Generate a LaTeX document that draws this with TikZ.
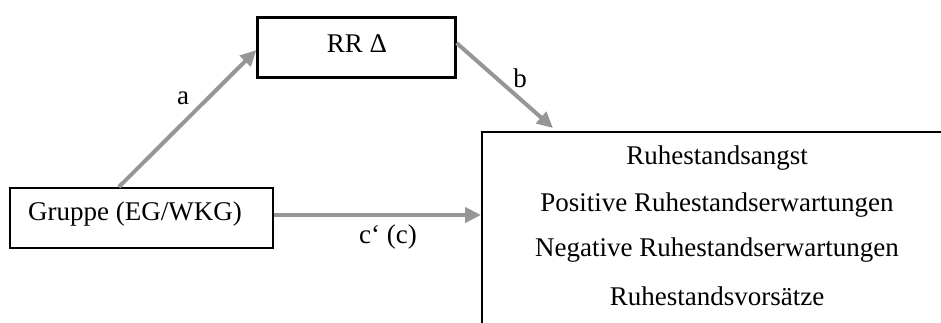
\documentclass[tikz,border=0pt]{standalone}
\usepackage{fontspec}
\setmainfont{Liberation Serif}
\usetikzlibrary{arrows.meta}
\definecolor{arrowgray}{RGB}{150,150,150}
\tikzset{
  box/.style={draw=black, line width=2.2pt, inner sep=0pt},
  path/.style={draw=arrowgray, line width=4pt, -{Triangle[length=16pt,width=15pt]}},
  lbl/.style={font=\fontsize{27}{32}\selectfont, inner sep=0pt},
}
\begin{document}
\begin{tikzpicture}[x=1pt,y=-1pt]
\clip (0,0) rectangle (941,322);
\useasboundingbox (0,0) rectangle (941,322);
\fill[white] (0,0) rectangle (941,322);
\node[box, minimum width=263pt, minimum height=60pt] (g) at (141.5,218) {};
\node[lbl] (gt) at (135,214) {Gruppe (EG/WKG)};
\node[box, minimum width=198pt, minimum height=60pt] (r) at (356.5,47.5) {};
\node[lbl] (rt) at (357,44) {RR Δ};
\node[box, anchor=north west, minimum width=600pt, minimum height=300pt] (o) at (481,131) {};
\node[lbl] (t1) at (717,158) {Ruhestandsangst};
\node[lbl] (t2) at (717,205) {Positive Ruhestandserwartungen};
\node[lbl] (t3) at (717,250) {Negative Ruhestandserwartungen};
\node[lbl] (t4) at (717,296) {Ruhestandsvorsätze};
\draw[path] ([xshift=110pt]g.north west) -- ([yshift=-2.5pt]r.west);
\draw[path] ([yshift=4.5pt]r.east) -- ([xshift=72pt,yshift=3pt]o.north west);
\draw[path] ([yshift=3pt]g.east) -- ([yshift=3pt]g.east -| o.west);
\node[lbl] (la) at (183,98) {a};
\node[lbl] (lb) at (520,78) {b};
\node[lbl] (lc) at (388,237) {c‘ (c)};
\end{tikzpicture}
\end{document}
